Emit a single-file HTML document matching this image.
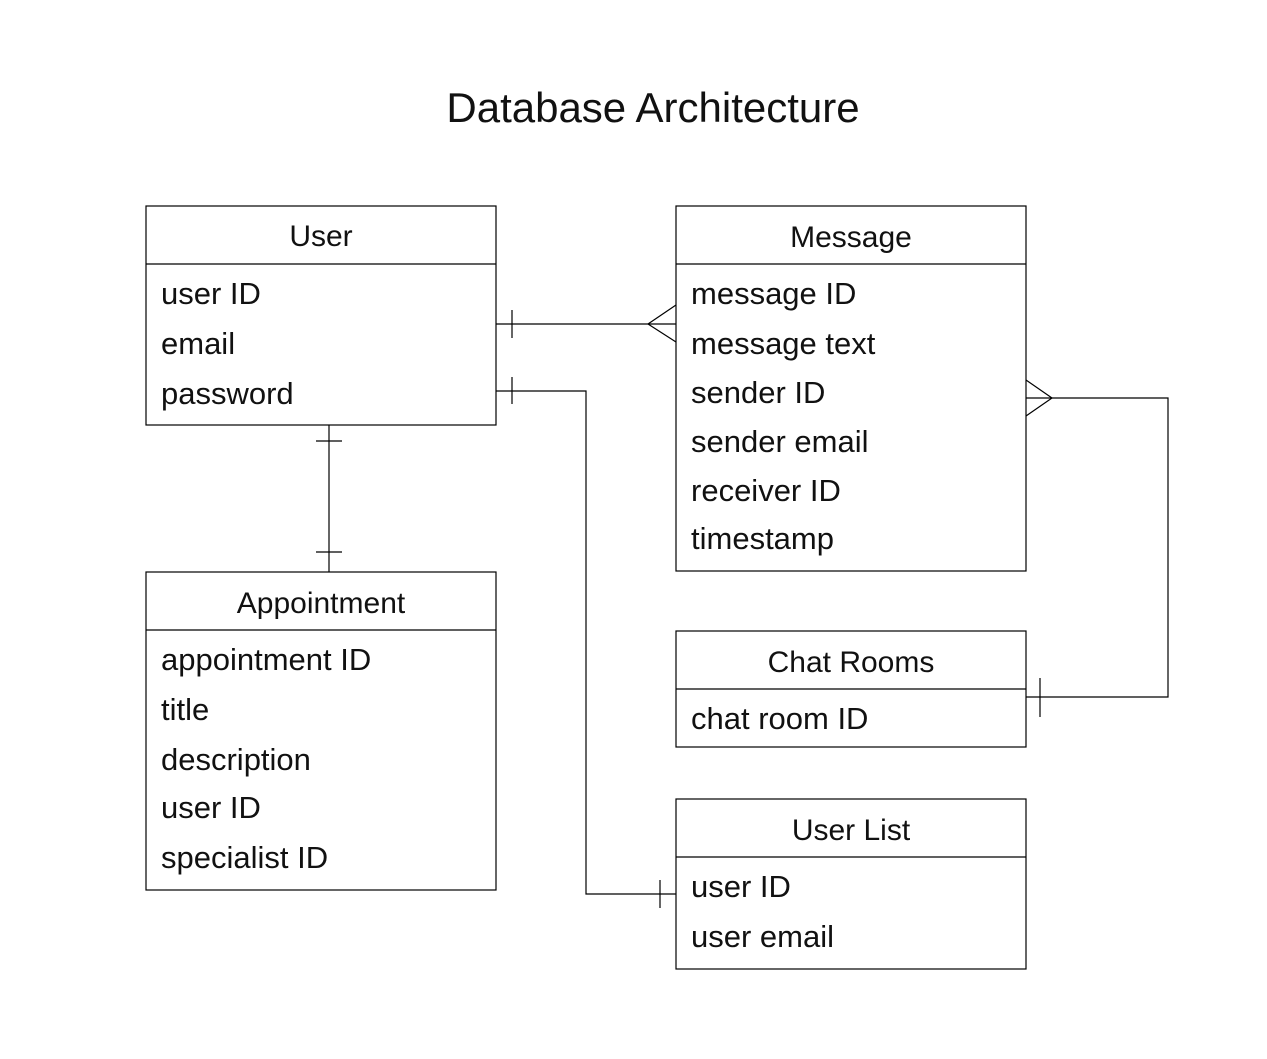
<!DOCTYPE html>
<html><head><meta charset="utf-8"><style>
html,body{margin:0;padding:0;background:#fff;}
svg{display:block;}
text{font-family:"Liberation Sans","DejaVu Sans",sans-serif;fill:#111;}
</style></head><body>
<svg width="1267" height="1059" viewBox="0 0 1267 1059" xmlns="http://www.w3.org/2000/svg">
<g stroke="#000" stroke-width="1.2" fill="none">
<rect x="146" y="206" width="350" height="219"/><line x1="146" y1="264" x2="496" y2="264"/>
<rect x="676" y="206" width="350" height="365"/><line x1="676" y1="264" x2="1026" y2="264"/>
<rect x="146" y="572" width="350" height="318"/><line x1="146" y1="630" x2="496" y2="630"/>
<rect x="676" y="631" width="350" height="116"/><line x1="676" y1="689" x2="1026" y2="689"/>
<rect x="676" y="799" width="350" height="170"/><line x1="676" y1="857" x2="1026" y2="857"/>
<line x1="496" y1="324" x2="676" y2="324"/><line x1="512" y1="310" x2="512" y2="338"/>
<polyline points="676,305 648,324 676,342"/>
<polyline points="496,391 586,391 586,894 676,894"/>
<line x1="512" y1="377" x2="512" y2="404"/><line x1="660" y1="880" x2="660" y2="908"/>
<line x1="329" y1="425" x2="329" y2="572"/>
<line x1="316" y1="441" x2="342" y2="441"/><line x1="316" y1="552" x2="342" y2="552"/>
<polyline points="1026,398 1168,398 1168,697 1026,697"/>
<polyline points="1026,380 1052,398 1026,416"/>
<line x1="1040" y1="678" x2="1040" y2="717"/>
</g>
<text x="653" y="122" font-size="42" text-anchor="middle">Database Architecture</text>
<g font-size="30" text-anchor="middle">
<text x="321" y="246">User</text>
<text x="851" y="247">Message</text>
<text x="321" y="613">Appointment</text>
<text x="851" y="672">Chat Rooms</text>
<text x="851" y="840">User List</text>
</g>
<g font-size="31">
<text x="161" y="304">user ID</text><text x="161" y="354">email</text><text x="161" y="404">password</text>
<text x="691" y="304">message ID</text><text x="691" y="354">message text</text><text x="691" y="403">sender ID</text>
<text x="691" y="452">sender email</text><text x="691" y="501">receiver ID</text><text x="691" y="549">timestamp</text>
<text x="161" y="670">appointment ID</text><text x="161" y="720">title</text><text x="161" y="770">description</text>
<text x="161" y="818">user ID</text><text x="161" y="868">specialist ID</text>
<text x="691" y="729">chat room ID</text>
<text x="691" y="897">user ID</text><text x="691" y="947">user email</text>
</g>
</svg>
</body></html>
